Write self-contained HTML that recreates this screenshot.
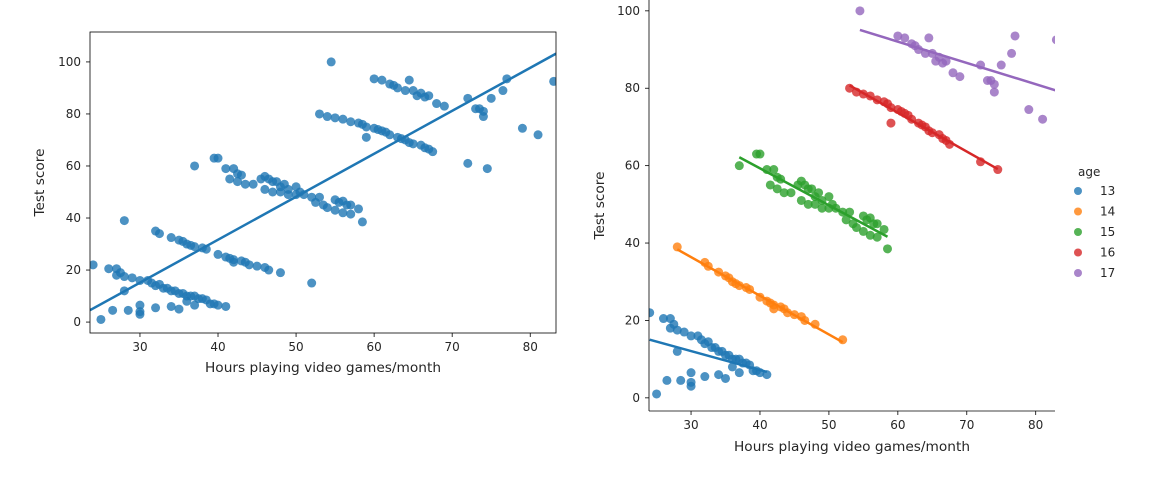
<!DOCTYPE html>
<html><head><meta charset="utf-8"><style>
body{margin:0;background:#fff;font-family:"DejaVu Sans","Liberation Sans",sans-serif;}
svg text{font-family:"DejaVu Sans","Liberation Sans",sans-serif;font-size:12px;fill:#262626;}
</style></head><body>
<svg id="c" width="1155" height="478"></svg>
<script>
const ages=['13','14','15','16','17'];
const colors=['#1f77b4','#ff7f0e','#2ca02c','#d62728','#9467bd'];
const hours13=[24,26,27,27.5,27,28,28,29,30,31,31.5,32,32.5,33,33.5,34,34.5,35,35.5,36,36.5,37,37.5,38,38.5,39,39.5,40,41,25,26.5,28.5,30,30,30,32,34,35,36,37];
const score13=[22,20.5,20.5,19,18,17.5,12,17,16,16,15,14,14.5,13,13,12,12,11,11,10,10,10,9,9,8.5,7,7,6.5,6,1,4.5,4.5,3,4,6.5,5.5,6,5,8,6.5];
const hours14=[28,32,32.5,34,35,35.5,36,36.5,37,38,38.5,40,41,41.5,42,42,43,43.5,44,45,46,46.5,48,52];
const score14=[39,35,34,32.5,31.5,31,30,29.5,29,28.5,28,26,25,24.5,24,23,23.5,23,22,21.5,21,20,19,15];
const hours15=[37,39.5,40,41,42,42.5,43,41.5,42.5,43.5,44.5,45.5,46,46.5,47,47.5,48,48.5,49,46,47,48,49,50,50,50.5,51,52,53,52.5,53.5,54,55,55.5,56,56.5,57,55,56,57,58,58.5];
const score15=[60,63,63,59,59,57,56.5,55,54,53,53,55,56,55,54,54,52,53,51,51,50,50,49,49,52,50,49,48,48,46,45,44,47,46,46.5,45,45,43,42,41.5,43.5,38.5];
const hours16=[53,54,55,56,57,58,58.5,59,60,60.5,61,59,61.5,62,63,63.5,64,64.5,65,66,66.5,67,67.5,72,74.5];
const score16=[80,79,78.5,78,77,76.5,76,75,74.5,74,73.5,71,73,72,71,70.5,70,69,68.5,68,67,66.5,65.5,61,59];
const hours17=[54.5,60,61,62,62.5,63,64,64.5,65,65.5,66,66.5,67,68,69,72,73,73.5,74,74,75,76.5,77,79,81,83];
const score17=[100,93.5,93,91.5,91,90,89,93,89,87,88,86.5,87,84,83,86,82,82,81,79,86,89,93.5,74.5,72,92.5];
const xTicks=[30,40,50,60,70,80];
const yTicks=[0,20,40,60,80,100];
const H=[hours13,hours14,hours15,hours16,hours17], S=[score13,score14,score15,score16,score17];
const NS='http://www.w3.org/2000/svg', svg=document.getElementById('c');
function mk(t,a,p){const e=document.createElementNS(NS,t);for(const k in a)e.setAttribute(k,a[k]);(p||svg).appendChild(e);return e;}
function fit(x,y){const n=x.length;let mx=0,my=0;for(let i=0;i<n;i++){mx+=x[i];my+=y[i];}mx/=n;my/=n;let sxy=0,sxx=0;for(let i=0;i<n;i++){sxy+=(x[i]-mx)*(y[i]-my);sxx+=(x[i]-mx)**2;}const b=sxy/sxx;return [b,my-b*mx];}
function axes(name,L,R,T,B,x0,x1,y0,y1,box,xlab,ylab,xly,ylx){
 const g=mk('g',{});  
 const sx=v=>L+(v-x0)/(x1-x0)*(R-L), sy=v=>B-(v-y0)/(y1-y0)*(B-T);
 const clip=mk('clipPath',{id:name+'-clip'},g); mk('rect',{x:L,y:T,width:R-L,height:B-T},clip);
 const plot=mk('g',{'clip-path':'url(#'+name+'-clip)'},g);
 if(box){mk('rect',{x:L,y:T,width:R-L,height:B-T,fill:'none',stroke:'#000','stroke-width':0.8},g);}
 else{mk('line',{x1:L,y1:T,x2:L,y2:B,stroke:'#000','stroke-width':0.8},g);mk('line',{x1:L,y1:B,x2:R,y2:B,stroke:'#000','stroke-width':0.8},g);}
 xTicks.forEach(v=>{const x=sx(v);mk('line',{x1:x,y1:B,x2:x,y2:B+4,stroke:'#000','stroke-width':0.8},g);const t=mk('text',{x:x,y:B+18,'text-anchor':'middle'},g);t.textContent=v;});
 yTicks.forEach(v=>{const y=sy(v);mk('line',{x1:L-4,y1:y,x2:L,y2:y,stroke:'#000','stroke-width':0.8},g);const t=mk('text',{x:L-9,y:y+4,'text-anchor':'end'},g);t.textContent=v;});
 const xl=mk('text',{x:(L+R)/2,y:xly,'text-anchor':'middle',textLength:236,lengthAdjust:'spacingAndGlyphs',style:'font-size:13px'},g);xl.textContent=xlab;
 const yl=mk('text',{x:ylx,y:(T+B)/2,'text-anchor':'middle',textLength:68,lengthAdjust:'spacingAndGlyphs',style:'font-size:13px',transform:`rotate(-90 ${ylx} ${(T+B)/2})`},g);yl.textContent=ylab;
 return {sx,sy,plot};
}
const A=axes('left-plot',90,556,32,333,23.6,83.3,-4.2,111.5,true,'Hours playing video games/month','Test score',372,44);
const allH=[].concat(...H), allS=[].concat(...S);
allH.forEach((h,i)=>{const c=mk('circle',{cx:A.sx(h),cy:A.sy(allS[i]),r:4.5,fill:colors[0],'fill-opacity':0.8},A.plot);});
let [b,a]=fit(allH,allS);
let ln=mk('line',{x1:A.sx(23.6),y1:A.sy(a+b*23.6),x2:A.sx(83.3),y2:A.sy(a+b*83.3),stroke:colors[0],'stroke-width':2.5},A.plot);

const B2=axes('right-plot',649,1055,0,411,23.9,82.8,-3.4,102.8,false,'Hours playing video games/month','Test score',451,604);
H.forEach((hs,k)=>{
 hs.forEach((h,i)=>{const c=mk('circle',{cx:B2.sx(h),cy:B2.sy(S[k][i]),r:4.5,fill:colors[k],'fill-opacity':0.8},B2.plot);});
 const [bb,aa]=fit(hs,S[k]);const mn=Math.min(...hs),mx=Math.max(...hs);
 const l=mk('line',{x1:B2.sx(mn),y1:B2.sy(aa+bb*mn),x2:B2.sx(mx),y2:B2.sy(aa+bb*mx),stroke:colors[k],'stroke-width':2.5},B2.plot);
 
});
const lg=mk('g',{});
const lt=mk('text',{x:1078,y:176},lg);lt.textContent='age';
ages.forEach((ag,k)=>{const y=191+k*20.5;mk('circle',{cx:1078,cy:y,r:4,fill:colors[k],'fill-opacity':0.8},lg);const t=mk('text',{x:1100,y:y+4},lg);t.textContent=ag;});
</script></body></html>
